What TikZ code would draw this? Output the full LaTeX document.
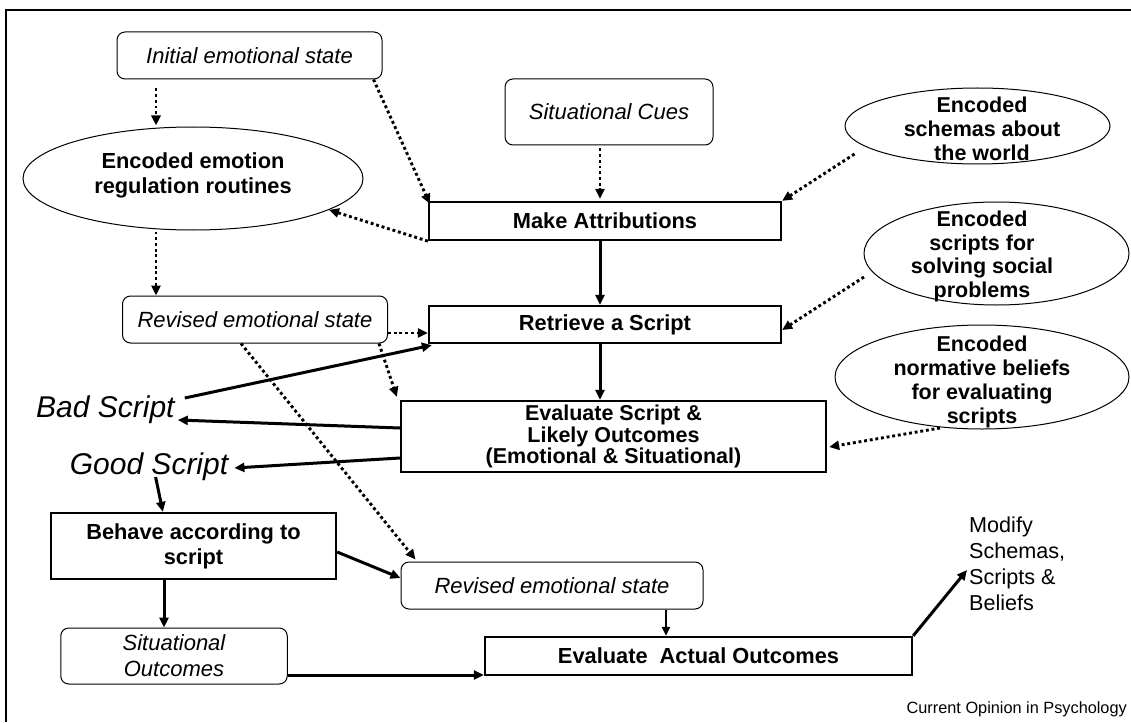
\documentclass[tikz,border=0pt]{standalone}
\usepackage{fontspec}
\setmainfont{Liberation Sans}
\usetikzlibrary{arrows.meta,shapes.geometric,calc}
\begin{document}
\begin{tikzpicture}[x=1pt,y=-1pt,
  rbox/.style={draw, line width=1pt, rounded corners=8pt, inner sep=0pt, align=center,
    font=\itshape\fontsize{22}{26}\selectfont},
  tbox/.style={draw, line width=2.3pt, inner sep=0pt, align=center,
    font=\bfseries\fontsize{21.8}{25}\selectfont},
  ell/.style={draw, ellipse, line width=1pt, inner sep=0pt},
  etext/.style={inner sep=0pt, align=center, font=\bfseries\fontsize{21.5}{23.8}\selectfont},
  bigtext/.style={inner sep=0pt, anchor=base west, font=\itshape\fontsize{30}{34}\selectfont},
  dotarr/.style={line width=2.9pt, dash pattern=on 2.9pt off 2.8pt, -{Triangle[length=10pt,width=9pt]}},
  solarr/.style={line width=3pt, -{Triangle[length=10pt,width=9pt]}},
  solarrthin/.style={line width=2.2pt, -{Triangle[length=9pt,width=8pt]}}
]
\useasboundingbox (0,0) rectangle (1131,722);
% frame
\draw[line width=2pt] (6,722) -- (6,10) -- (1131,10);

% helper columns
\coordinate (c156) at (156,0);
\coordinate (c600) at (600,0);
\coordinate (c164) at (164,0);
\coordinate (c666) at (666,0);

% nodes
\node[rbox, minimum width=265pt, minimum height=47pt] (ini) at (249.5,55.5) {Initial emotional state};
\node[ell, minimum width=340pt, minimum height=103pt] (eer) at (193,178.5) {};
\node[etext, font=\bfseries\fontsize{21.8}{25}\selectfont] (eert) at (193,175) {Encoded emotion\\regulation routines};
\node[rbox, minimum width=208pt, minimum height=66pt] (sc) at (609,112) {Situational Cues};
\node[ell, minimum width=265pt, minimum height=76pt] (esw) at (977.5,126) {};
\node[etext] (eswt) at (982,128.6) {Encoded\\schemas about\\the world};
\node[tbox, minimum width=352pt, minimum height=38pt] (ma) at (605,221) {Make Attributions};
\node[ell, minimum width=265pt, minimum height=103pt] (ess) at (996.5,253.5) {};
\node[etext] (esst) at (982,256.4) {Encoded\\scripts for\\solving social\\problems};
\node[rbox, minimum width=265pt, minimum height=47pt] (rev1) at (255,319.5) {Revised emotional state};
\node[tbox, minimum width=352pt, minimum height=37pt] (rs) at (605,324.5) {Retrieve a Script};
\node[ell, minimum width=294pt, minimum height=104pt] (enb) at (982,377) {};
\node[etext] (enbt) at (982,381.8) {Encoded\\normative beliefs\\for evaluating\\scripts};
\node[tbox, minimum width=425pt, minimum height=71pt, font=\bfseries\fontsize{21.5}{21.5}\selectfont] (es) at (613.5,436.5)
  {Evaluate Script \&\\Likely Outcomes\\(Emotional \& Situational)};
\node[bigtext] (bad) at (36,417) {Bad Script};
\node[bigtext] (good) at (69.6,474) {Good Script};
\node[tbox, minimum width=285pt, minimum height=66pt] (beh) at (193.5,546) {Behave according to\\script};
\node[rbox, minimum width=302pt, minimum height=47pt] (rev2) at (552,585.5) {Revised emotional state};
\node[rbox, minimum width=226.5pt, minimum height=56pt] (so) at (174,656) {Situational\\Outcomes};
\node[tbox, minimum width=427pt, minimum height=38pt] (eao) at (698.5,656) {Evaluate\ \ Actual\ Outcomes};
\node[inner sep=0pt, anchor=north west, align=left, font=\fontsize{21.6}{26}\selectfont] (mod) at (969,517)
  {Modify\\Schemas,\\Scripts \&\\Beliefs};
\node[inner sep=0pt, anchor=base east, font=\fontsize{16.3}{18}\selectfont] (cop) at (1127,713) {Current Opinion in Psychology};

% dotted connectors
\draw[dotarr] ([yshift=-9pt]ini.south -| c156) -- ([yshift=1pt]eer.north -| c156);
\draw[dotarr] ($(ini.south east)+(-9,0)$) -- ($(ma.north west)+(2,3)$);
\draw[dotarr] (ma.south west) -- (eer.-13);
\draw[dotarr] ([yshift=-1pt]eer.south -| c156) -- (rev1.north -| c156);
\draw[dotarr] ([yshift=-3pt]sc.south -| c600) -- ([yshift=2pt]ma.north -| c600);
\draw[dotarr] ($(esw.center)+(-123,28)$) -- (ma.north east);
\draw[dotarr] ($(ess.center)+(-132.5,23.5)$) -- ($(rs.east)+(0,5.5)$);
\draw[dotarr] ($(rev1.east)+(0,13.5)$) -- ($(rs.west |- rev1.east)+(0,13.5)$);
\draw[dotarr] ($(rev1.south east)+(-9,0)$) -- ($(es.north west)+(-3,-3)$);
\draw[dotarr] ($(rev1.south)+(-14,0)$) -- ($(rev2.north west)+(15,-2)$);
\draw[dotarr] ($(enb.center)+(-42,51)$) -- ($(es.east)+(2,10.5)$);

% solid connectors
\draw[solarr] (ma.south -| c600) -- (rs.north -| c600);
\draw[solarr] (rs.south -| c600) -- (es.north -| c600);
\draw[solarr] ($(bad.base east)+(10,-19)$) -- ($(rs.south west)+(4,1)$);
\draw[solarr] ($(es.west)+(0,-8.5)$) -- ($(bad.base east)+(3,3)$);
\draw[solarr] ($(es.west)+(0,21.5)$) -- ($(good.base east)+(6,-6)$);
\draw[solarr] ($(good.base west)+(86,3)$) -- ($(beh.north west)+(113,0)$);
\draw[solarr] ($(beh.east)+(0,6)$) -- ($(rev2.west)+(0,-7.5)$);
\draw[solarr] (beh.south -| c164) -- (so.north -| c164);
\draw[solarrthin] (rev2.south -| c666) -- (eao.north -| c666);
\draw[solarr] ($(so.east)+(0,19)$) -- ($(eao.west |- so.east)+(0,19)$);
\draw[solarr] (eao.north east) -- ($(mod.north west)+(-2,53)$);
\end{tikzpicture}
\end{document}
